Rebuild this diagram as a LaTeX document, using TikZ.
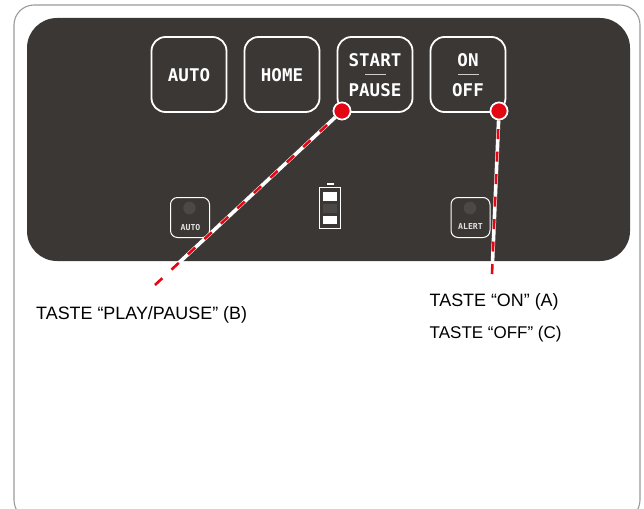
\documentclass[tikz,border=0pt]{standalone}
\usepackage{fontspec}
\setmainfont{Liberation Sans}
\newfontfamily\panelfont{DejaVu Sans Mono}
\definecolor{panel}{HTML}{3B3735}
\definecolor{led}{HTML}{4C4846}
\definecolor{framec}{HTML}{9A9A9A}
\definecolor{redc}{HTML}{E30613}
\tikzset{x=1pt,y=-1pt,
 keybox/.style={draw=white,line width=1.8pt,rounded corners=14pt,minimum width=75pt,minimum height=75pt,inner sep=0pt},
 smallbox/.style={draw=white,line width=1pt,rounded corners=7pt,minimum width=39pt,minimum height=40pt,inner sep=0pt},
 keytext/.style={text=white,font=\panelfont\bfseries\fontsize{17.5}{18}\selectfont,inner sep=0pt},
 smalltext/.style={text=white!85!panel,font=\panelfont\bfseries\fontsize{8.2}{9}\selectfont,inner sep=0pt},
 caption/.style={text=black,font=\fontsize{17.9}{20}\selectfont,inner sep=0pt},
 led/.style={circle,fill=led,minimum size=12.5pt,inner sep=0pt},
 reddot/.style={circle,fill=redc,draw=white,line width=1.6pt,minimum size=17pt,inner sep=0pt},
 whiteline/.style={white,line width=3.6pt},
 redline/.style={redc,line width=2.6pt,dash pattern=on 10pt off 12.5pt},
 cell/.style={fill=white,draw=none},
}
\begin{document}
\begin{tikzpicture}
\useasboundingbox (0,0) rectangle (644,508);
\begin{scope}
\clip (0,0) rectangle (644,508);
\draw[framec,line width=1.1pt,rounded corners=20pt] (14,5) rectangle (640,520);
\end{scope}
\fill[panel,rounded corners=30pt] (27,18) rectangle (630,261);
% main keys
\node[keybox] (auto) at (189,74.5) {};
\node[keytext] (autot) at (189,75.5) {AUTO};
\node[keybox] (home) at (282,74.5) {};
\node[keytext] (homet) at (282,75.5) {HOME};
\node[keybox] (start) at (375,74.5) {};
\node[keytext] (startt) at (375,60.5) {START};
\node[keytext] (pauset) at (375,90.5) {PAUSE};
\node[keybox] (onoff) at (468,74.5) {};
\node[keytext] (ont) at (468,60.5) {ON};
\node[keytext] (offt) at (468,90.5) {OFF};
\draw[white!75!panel,line width=0.8pt] (365,74.5) -- (386,74.5);
\draw[white!75!panel,line width=0.8pt] (458,74.5) -- (479,74.5);
% small keys
\node[smallbox] (autos) at (190,217.5) {};
\node[led] (autol) at (189.5,208) {};
\node[smalltext] (autost) at (190.5,228) {AUTO};
\node[smallbox] (alert) at (470.5,217.5) {};
\node[led] (alertl) at (470,208) {};
\node[smalltext] (alertt) at (470.5,227) {ALERT};
% battery
\fill[white] (326.5,182.7) rectangle (334,184.7);
\draw[white,line width=1.3pt] (319.3,187.3) rectangle (340.7,228.7);
\fill[cell] (323,192) rectangle (337,200.5);
\fill[led] (323,204) rectangle (337,213);
\fill[cell] (323,216) rectangle (337,224);
% connectors
\coordinate (bfree) at (155,285);
\coordinate (afree) at (492,274);
\node[reddot] (dotb) at (342,111) {};
\node[reddot] (dota) at (499,111) {};
\begin{scope}
\clip (27,18) rectangle (630,261);
\draw[whiteline] (dotb) -- (bfree);
\draw[whiteline] (dota) -- (afree);
\end{scope}
\draw[redline] (bfree) -- (dotb);
\draw[redline] (afree) -- (dota);
\node[reddot] at (dotb) {};
\node[reddot] at (dota) {};
% captions
\node[caption,anchor=base west] (capb) at (36,319.5) {TASTE “PLAY/PAUSE” (B)};
\node[caption,anchor=base west] (capa) at (429.5,306) {TASTE “ON” (A)};
\node[caption,anchor=base west,font=\fontsize{17}{20}\selectfont] (capc) at (429.5,338) {TASTE “OFF” (C)};
\end{tikzpicture}
\end{document}
